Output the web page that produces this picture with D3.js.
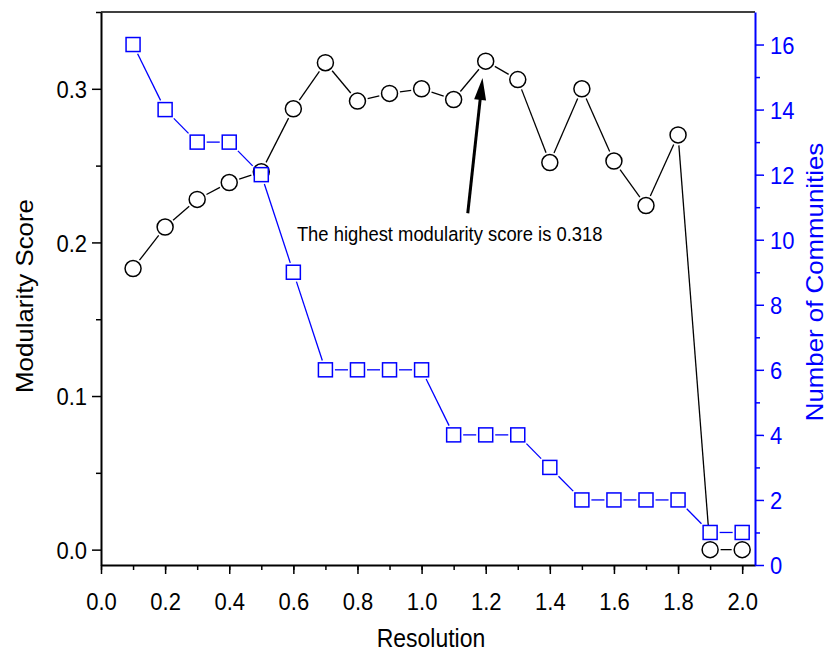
<!DOCTYPE html>
<html><head><meta charset="utf-8">
<script src="https://cdn.jsdelivr.net/npm/d3@7"></script>
<style>body{margin:0;background:#fff}svg{display:block}text{font-family:"Liberation Sans",Arial,sans-serif}</style>
</head><body><svg id="c" width="829" height="654"></svg>
<script>
const resolution = [0.1,0.2,0.3,0.4,0.5,0.6,0.7,0.8,0.9,1.0,1.1,1.2,1.3,1.4,1.5,1.6,1.7,1.8,1.9,2.0];
const modularity = [0.183,0.210,0.228,0.239,0.246,0.287,0.317,0.292,0.297,0.300,0.293,0.318,0.306,0.252,0.300,0.253,0.224,0.270,0.000,0.000];
const communities = [16,14,13,13,12,9,6,6,6,6,4,4,4,3,2,2,2,2,1,1];
const xTicks = [0.0,0.2,0.4,0.6,0.8,1.0,1.2,1.4,1.6,1.8,2.0];
const yLeftTicks = [0.0,0.1,0.2,0.3];
const yRightTicks = [0,2,4,6,8,10,12,14,16];
const annotationText = "The highest modularity score is 0.318";
const arrowTip = [1.19, 0.307];
const arrowTail = [1.144, 0.219];
const textAnchorPt = [0.611, 0.201];

const svg = d3.select("#c");
const L = 101, R = 755, T = 12, B = 565;
const x = d3.scaleLinear().domain([0, 2.04]).range([L, R]);
const yL = d3.scaleLinear().domain([-0.01, 0.35]).range([B, T]);
const yR = d3.scaleLinear().domain([0, 17]).range([B, T]);
const BLUE = "#0000ff";
const FS = 22, K = 1.1, CAP = 0.716;

function styleAxis(g, color, width) {
  g.select(".domain").attr("stroke", color).attr("stroke-width", width);
  g.selectAll(".tick line").attr("stroke", color).attr("stroke-width", 1.5);
  g.selectAll(".tick text").attr("fill", color).style("font-size", FS + "px")
    .attr("x", 0).attr("y", 0).attr("dy", null);
}

// minor ticks
const xMinor = d3.range(0, 21).map(d => d / 10);
svg.append("g").attr("transform", `translate(0,${B})`)
  .call(d3.axisBottom(x).tickValues(xMinor).tickSize(5).tickFormat("").tickSizeOuter(0))
  .call(g => { g.select(".domain").remove(); g.selectAll("line").attr("stroke", "#000").attr("stroke-width", 1.5); });
svg.append("g").attr("transform", `translate(${L},0)`)
  .call(d3.axisLeft(yL).tickValues([0.05,0.15,0.25,0.35]).tickSize(5).tickFormat("").tickSizeOuter(0))
  .call(g => { g.select(".domain").remove(); g.selectAll("line").attr("stroke", "#000").attr("stroke-width", 1.5); });
svg.append("g").attr("transform", `translate(${R},0)`)
  .call(d3.axisRight(yR).tickValues([1,3,5,7,9,11,13,15]).tickSize(5).tickFormat("").tickSizeOuter(0))
  .call(g => { g.select(".domain").remove(); g.selectAll("line").attr("stroke", BLUE).attr("stroke-width", 1.5); });

// top border
svg.append("line").attr("x1", L).attr("x2", R).attr("y1", T).attr("y2", T).attr("stroke", "#000").attr("stroke-width", 1.5);

const capHalf = FS * CAP * K / 2;
svg.append("g").attr("transform", `translate(0,${B})`)
  .call(d3.axisBottom(x).tickValues(xTicks).tickSize(9).tickFormat(d3.format(".1f")).tickSizeOuter(0))
  .call(g => styleAxis(g, "#000", 2))
  .call(g => g.selectAll(".tick text").attr("transform", `translate(0,${601 - B + capHalf}) scale(1,${K})`));
svg.append("g").attr("transform", `translate(${L},0)`)
  .call(d3.axisLeft(yL).tickValues(yLeftTicks).tickSize(9).tickFormat(d3.format(".1f")).tickSizeOuter(0))
  .call(g => styleAxis(g, "#000", 2))
  .call(g => g.selectAll(".tick text").attr("transform", `translate(-14,${capHalf}) scale(1,${K})`));
svg.append("g").attr("transform", `translate(${R},0)`)
  .call(d3.axisRight(yR).tickValues(yRightTicks).tickSize(9).tickFormat(d3.format("d")).tickSizeOuter(0))
  .call(g => styleAxis(g, BLUE, 2))
  .call(g => g.selectAll(".tick text").attr("transform", `translate(15,${capHalf}) scale(1,${K})`));

// axis titles
svg.append("text").attr("transform", `translate(431,647) scale(1,${K})`).attr("text-anchor", "middle")
  .style("font-size", "23px").text("Resolution");
svg.append("text").attr("transform", `translate(33,296) rotate(-90) scale(${K},1)`).attr("text-anchor", "middle")
  .style("font-size", "23.5px").text("Modularity Score");
svg.append("text").attr("transform", `translate(823,282) rotate(-90) scale(${K},1)`).attr("text-anchor", "middle")
  .attr("fill", BLUE).style("font-size", "23.5px").text("Number of Communities");

// segments with gaps
function gapSegments(pts, gapFn) {
  const segs = [];
  for (let i = 0; i < pts.length - 1; i++) {
    const [x1, y1] = pts[i], [x2, y2] = pts[i + 1];
    const dx = x2 - x1, dy = y2 - y1, len = Math.hypot(dx, dy);
    const ux = dx / len, uy = dy / len;
    const g = gapFn(ux, uy);
    if (len > 2 * g) segs.push([x1 + ux * g, y1 + uy * g, x2 - ux * g, y2 - uy * g]);
  }
  return segs;
}
const rC = 8, hS = 7;
const ptsM = resolution.map((r, i) => [x(r), yL(modularity[i])]);
const ptsC = resolution.map((r, i) => [x(r), yR(communities[i])]);

svg.append("g").selectAll("line").data(gapSegments(ptsM, () => rC + 2.5)).join("line")
  .attr("x1", d => d[0]).attr("y1", d => d[1]).attr("x2", d => d[2]).attr("y2", d => d[3])
  .attr("stroke", "#000").attr("stroke-width", 1.3);
svg.append("g").selectAll("circle").data(ptsM).join("circle")
  .attr("cx", d => d[0]).attr("cy", d => d[1]).attr("r", rC)
  .attr("fill", "#fff").attr("stroke", "#000").attr("stroke-width", 1.5);

svg.append("g").selectAll("line").data(gapSegments(ptsC, (ux, uy) => hS / Math.max(Math.abs(ux), Math.abs(uy)) + 2.5)).join("line")
  .attr("x1", d => d[0]).attr("y1", d => d[1]).attr("x2", d => d[2]).attr("y2", d => d[3])
  .attr("stroke", BLUE).attr("stroke-width", 1.3);
svg.append("g").selectAll("rect").data(ptsC).join("rect")
  .attr("x", d => d[0] - hS).attr("y", d => d[1] - hS).attr("width", 2 * hS).attr("height", 2 * hS)
  .attr("fill", "#fff").attr("stroke", BLUE).attr("stroke-width", 1.5);

// annotation arrow
const tip = [x(arrowTip[0]), yL(arrowTip[1])], tail = [x(arrowTail[0]), yL(arrowTail[1])];
const adx = tip[0] - tail[0], ady = tip[1] - tail[1], alen = Math.hypot(adx, ady);
const aux = adx / alen, auy = ady / alen, headLen = 22, headW = 6;
const base = [tip[0] - aux * headLen, tip[1] - auy * headLen];
svg.append("line").attr("x1", tail[0]).attr("y1", tail[1]).attr("x2", base[0] + aux * 2).attr("y2", base[1] + auy * 2)
  .attr("stroke", "#000").attr("stroke-width", 3);
svg.append("path").attr("d", `M${tip[0]},${tip[1]} L${base[0] - auy * headW},${base[1] + aux * headW} L${base[0] + auy * headW},${base[1] - aux * headW} Z`)
  .attr("fill", "#000");
svg.append("text").attr("transform", `translate(${x(textAnchorPt[0])},${yL(textAnchorPt[1])}) scale(1,${K})`)
  .style("font-size", "18.4px").text(annotationText);
</script></body></html>
